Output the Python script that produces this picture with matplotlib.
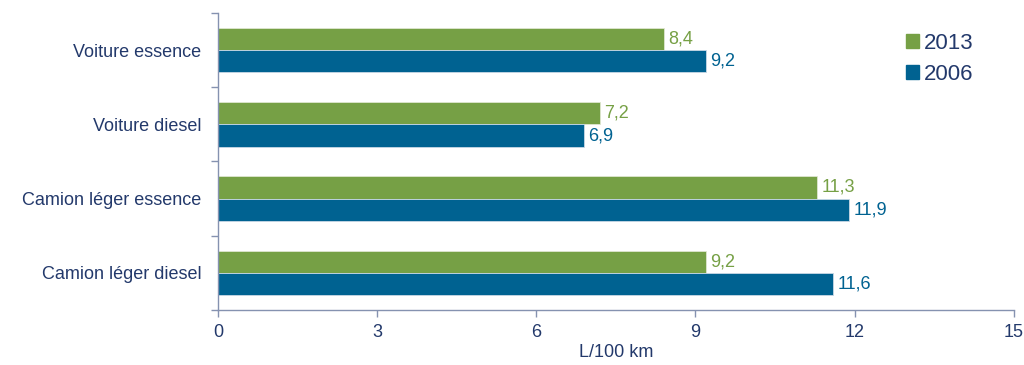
import matplotlib
matplotlib.use("Agg")
import matplotlib.pyplot as plt
import numpy as np
from matplotlib.patches import Patch

categories = ["Voiture essence", "Voiture diesel", "Camion léger essence", "Camion léger diesel"]
values_2013 = [8.4, 7.2, 11.3, 9.2]
values_2006 = [9.2, 6.9, 11.9, 11.6]
series_labels = ["2013", "2006"]
xticks = [0, 3, 6, 9, 12, 15]

green = "#76a045"
blue = "#006291"
text_col = "#23396b"
axis_col = "#8592b0"

plt.rcParams['font.family'] = ['Liberation Sans', 'DejaVu Sans']

fig = plt.figure(figsize=(10.24, 3.65), dpi=100)
ax = fig.add_axes([0.2129, 0.1507, 0.990 - 0.2129, 0.9644 - 0.1507])

y = np.arange(len(categories))
h = 0.30
ax.barh(y - h / 2, values_2013, height=h, color=green, edgecolor="#dfe6d0", linewidth=0.6)
ax.barh(y + h / 2, values_2006, height=h, color=blue, edgecolor="#c9d8e6", linewidth=0.6)

for v, yy in zip(values_2013, y):
    ax.text(v + 0.08, yy - h / 2, f"{v:.1f}".replace(".", ","), color=green,
            va="center", ha="left", fontsize=13)
for v, yy in zip(values_2006, y):
    ax.text(v + 0.08, yy + h / 2, f"{v:.1f}".replace(".", ","), color=blue,
            va="center", ha="left", fontsize=13)

ax.set_xlim(0, 15)
ax.set_ylim(len(categories) - 0.5, -0.5)
ax.set_xticks(xticks)
ax.set_xticklabels([str(t) for t in xticks], color=text_col, fontsize=13)
ax.set_yticks(y)
ax.set_yticklabels(categories, color=text_col, fontsize=13)
ax.tick_params(axis="y", length=0, pad=12)
ax.set_yticks(np.arange(-0.5, len(categories), 1.0), minor=True)
ax.tick_params(axis="y", which="minor", length=5, color=axis_col, width=1)
ax.tick_params(axis="x", length=5, color=axis_col, width=1, pad=5)
ax.set_xlabel("L/100 km", color=text_col, fontsize=13, labelpad=2)

for s in ["top", "right"]:
    ax.spines[s].set_visible(False)
for s in ["left", "bottom"]:
    ax.spines[s].set_color(axis_col)
    ax.spines[s].set_linewidth(1)

handles = [Patch(color=green), Patch(color=blue)]
leg = ax.legend(handles, series_labels, loc="upper left", bbox_to_anchor=(0.84, 1.0),
                frameon=False, fontsize=16, handlelength=0.55, handleheight=0.55,
                handletextpad=0.25, labelspacing=0.45)
for t in leg.get_texts():
    t.set_color(text_col)

fig.savefig("out.png", dpi=100)
